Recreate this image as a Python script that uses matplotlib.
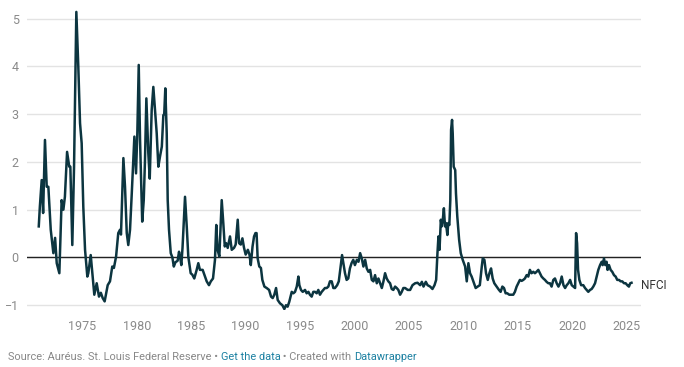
import matplotlib
matplotlib.use("Agg")
import matplotlib.pyplot as plt

# NFCI readings, estimated from the reference chart
years = [
    1971.0, 1971.1, 1971.27, 1971.4, 1971.57, 1971.73, 1971.88, 1972.1, 1972.34, 1972.5,
    1972.65, 1972.89, 1973.1, 1973.26, 1973.4, 1973.6, 1973.8, 1973.9, 1974.08, 1974.24,
    1974.33, 1974.45, 1974.63, 1974.79, 1974.94, 1975.09, 1975.25, 1975.46, 1975.55, 1975.77,
    1975.95, 1976.1, 1976.32, 1976.53, 1976.7, 1976.87, 1977.05, 1977.33, 1977.54, 1977.75,
    1977.9, 1978.1, 1978.3, 1978.46, 1978.55, 1978.77, 1978.92, 1979.08, 1979.22, 1979.38,
    1979.54, 1979.78, 1979.93, 1980.05, 1980.18, 1980.3, 1980.5, 1980.64, 1980.75, 1980.88,
    1981.06, 1981.19, 1981.37, 1981.52, 1981.67, 1981.83, 1981.98, 1982.13, 1982.3, 1982.44,
    1982.52, 1982.62, 1982.75, 1982.84, 1982.96, 1983.12, 1983.27, 1983.4, 1983.55, 1983.75,
    1983.88, 1983.97, 1984.09, 1984.2, 1984.43, 1984.59, 1984.73, 1984.95, 1985.1, 1985.28,
    1985.5, 1985.65, 1985.8, 1986.05, 1986.27, 1986.42, 1986.63, 1986.8, 1987.0, 1987.18,
    1987.3, 1987.42, 1987.58, 1987.8, 1987.95, 1988.08, 1988.2, 1988.35, 1988.56, 1988.72,
    1988.93, 1989.08, 1989.27, 1989.39, 1989.55, 1989.7, 1989.85, 1990.0, 1990.2, 1990.35,
    1990.47, 1990.63, 1990.77, 1990.9, 1991.0, 1991.1, 1991.25, 1991.4, 1991.53, 1991.72,
    1991.93, 1992.15, 1992.33, 1992.48, 1992.63, 1992.79, 1992.94, 1993.15, 1993.37, 1993.55,
    1993.7, 1993.85, 1994.0, 1994.23, 1994.38, 1994.53, 1994.69, 1994.84, 1994.93, 1995.08,
    1995.24, 1995.45, 1995.6, 1995.76, 1995.9, 1996.06, 1996.21, 1996.37, 1996.52, 1996.67,
    1996.82, 1996.98, 1997.13, 1997.28, 1997.44, 1997.59, 1997.74, 1997.9, 1998.05, 1998.2,
    1998.4, 1998.55, 1998.85, 1998.97, 1999.12, 1999.27, 1999.42, 1999.57, 1999.72, 1999.88,
    2000.03, 2000.21, 2000.36, 2000.51, 2000.66, 2000.81, 2000.97, 2001.12, 2001.27, 2001.43,
    2001.58, 2001.73, 2001.88, 2002.04, 2002.19, 2002.34, 2002.5, 2002.65, 2002.8, 2002.95,
    2003.1, 2003.26, 2003.41, 2003.56, 2003.72, 2003.87, 2004.02, 2004.18, 2004.33, 2004.48,
    2004.64, 2004.88, 2005.1, 2005.32, 2005.56, 2005.78, 2006.02, 2006.18, 2006.33, 2006.54,
    2006.7, 2006.94, 2007.15, 2007.34, 2007.49, 2007.61, 2007.7, 2007.8, 2007.92, 2008.0,
    2008.1, 2008.2, 2008.3, 2008.39, 2008.52, 2008.6, 2008.7, 2008.79, 2008.86, 2008.95,
    2009.01, 2009.1, 2009.24, 2009.31, 2009.43, 2009.6, 2009.75, 2009.93, 2010.15, 2010.3,
    2010.45, 2010.6, 2010.75, 2010.9, 2011.12, 2011.3, 2011.5, 2011.68, 2011.77, 2011.92,
    2012.07, 2012.23, 2012.38, 2012.53, 2012.68, 2012.83, 2013.05, 2013.26, 2013.41, 2013.57,
    2013.72, 2013.87, 2014.02, 2014.2, 2014.42, 2014.57, 2014.72, 2014.88, 2015.03, 2015.18,
    2015.34, 2015.49, 2015.64, 2015.8, 2015.95, 2016.1, 2016.25, 2016.41, 2016.56, 2016.71,
    2016.87, 2017.02, 2017.17, 2017.33, 2017.48, 2017.63, 2017.79, 2017.94, 2018.09, 2018.25,
    2018.4, 2018.56, 2018.72, 2018.87, 2019.02, 2019.18, 2019.33, 2019.48, 2019.63, 2019.79,
    2019.94, 2020.1, 2020.25, 2020.34, 2020.43, 2020.52, 2020.64, 2020.8, 2021.0, 2021.16,
    2021.31, 2021.46, 2021.62, 2021.77, 2021.92, 2022.08, 2022.23, 2022.38, 2022.54, 2022.69,
    2022.78, 2022.9, 2023.02, 2023.14, 2023.23, 2023.36, 2023.51, 2023.66, 2023.82, 2023.97,
    2024.12, 2024.28, 2024.43, 2024.58, 2024.74, 2024.89, 2025.04, 2025.19, 2025.31, 2025.43,
]
nfci = [
    0.65, 1.06, 1.62, 0.93, 2.46, 1.48, 1.48, 0.58, 0.09, 0.41,
    -0.12, -0.33, 1.2, 1.0, 1.27, 2.21, 1.9, 1.9, 0.26, 1.9,
    3.3, 5.14, 4.0, 2.81, 2.39, 1.06, 0.16, -0.4, -0.33, 0.05,
    -0.4, -0.78, -0.54, -0.82, -0.74, -0.85, -0.92, -0.58, -0.5, -0.19,
    -0.22, 0.02, 0.51, 0.58, 0.48, 2.08, 1.48, 0.51, 0.26, 0.58,
    1.34, 2.53, 1.76, 2.6, 4.03, 2.46, 0.75, 1.2, 2.0, 3.33,
    2.18, 1.65, 3.09, 3.57, 3.09, 2.6, 1.9, 2.11, 2.32, 2.98,
    3.0, 3.54, 2.6, 1.2, 0.58, 0.09, 0.0, -0.19, -0.1, -0.07,
    0.12, 0.02, -0.16, 0.2, 1.27, 0.64, 0.02, -0.33, -0.36, -0.44,
    -0.26, -0.12, -0.26, -0.26, -0.4, -0.5, -0.58, -0.5, -0.44, -0.05,
    0.68, 0.16, 0.02, 1.2, 0.7, 0.23, 0.3, 0.2, 0.44, 0.16,
    0.2, 0.27, 0.79, 0.3, 0.27, 0.4, 0.2, 0.06, 0.16, 0.06,
    -0.16, 0.23, 0.44, 0.51, 0.51, -0.02, -0.19, -0.22, -0.47, -0.61,
    -0.64, -0.68, -0.82, -0.85, -0.78, -0.64, -0.89, -0.96, -1.0, -1.08,
    -1.0, -1.03, -0.93, -0.72, -0.75, -0.72, -0.61, -0.4, -0.58, -0.68,
    -0.72, -0.68, -0.75, -0.72, -0.78, -0.82, -0.72, -0.72, -0.75, -0.68,
    -0.78, -0.72, -0.68, -0.64, -0.64, -0.61, -0.5, -0.5, -0.64, -0.64,
    -0.58, -0.5, 0.05, -0.12, -0.33, -0.47, -0.44, -0.23, -0.12, -0.05,
    -0.16, -0.05, -0.09, 0.09, -0.02, -0.19, -0.05, -0.23, -0.3, -0.26,
    -0.47, -0.5, -0.37, -0.54, -0.44, -0.54, -0.64, -0.5, -0.33, -0.44,
    -0.5, -0.54, -0.66, -0.68, -0.61, -0.64, -0.68, -0.78, -0.72, -0.64,
    -0.64, -0.68, -0.68, -0.58, -0.54, -0.53, -0.58, -0.51, -0.61, -0.51,
    -0.58, -0.61, -0.66, -0.58, -0.47, 0.09, 0.44, 0.16, 0.79, 0.65,
    0.79, 1.03, 0.65, 0.72, 0.47, 0.72, 0.68, 1.2, 2.67, 2.88,
    2.6, 1.9, 1.83, 1.34, 0.86, 0.37, 0.09, -0.05, -0.19, -0.5,
    -0.12, -0.33, -0.4, -0.5, -0.64, -0.61, -0.58, -0.19, -0.02, -0.05,
    -0.33, -0.47, -0.33, -0.23, -0.44, -0.54, -0.61, -0.68, -0.72, -0.61,
    -0.64, -0.75, -0.75, -0.78, -0.78, -0.78, -0.72, -0.61, -0.54, -0.47,
    -0.49, -0.47, -0.44, -0.37, -0.4, -0.26, -0.33, -0.3, -0.33, -0.3,
    -0.26, -0.33, -0.4, -0.44, -0.47, -0.51, -0.54, -0.54, -0.61, -0.47,
    -0.44, -0.54, -0.61, -0.54, -0.4, -0.58, -0.64, -0.58, -0.54, -0.47,
    -0.58, -0.61, -0.64, 0.51, 0.3, -0.26, -0.47, -0.58, -0.58, -0.64,
    -0.68, -0.72, -0.68, -0.66, -0.61, -0.54, -0.4, -0.26, -0.16, -0.09,
    -0.16, -0.02, -0.16, -0.09, -0.26, -0.16, -0.26, -0.3, -0.37, -0.4,
    -0.47, -0.47, -0.5, -0.5, -0.54, -0.54, -0.58, -0.61, -0.54, -0.53,
]
xticks = [1975, 1980, 1985, 1990, 1995, 2000, 2005, 2010, 2015, 2020, 2025]
yticks = [-1, 0, 1, 2, 3, 4, 5]

plt.rcParams['font.family'] = ['Roboto', 'DejaVu Sans']

fig = plt.figure(figsize=(6.84, 3.67), dpi=100)
ax = fig.add_axes([27 / 684, 1 - 310 / 367, 614 / 684, 300 / 367])

ax.set_xlim(1969.92, 2026.3)
ax.set_ylim(-1.1, 5.18)

ax.set_yticks(yticks)
ax.set_xticks(xticks)
ax.grid(axis='y', color='#e3e3e3', linewidth=1)
ax.set_axisbelow(True)
ax.axhline(0, color='#222222', linewidth=1, zorder=2)

for s in ax.spines.values():
    s.set_visible(False)
ax.tick_params(length=0, labelsize=9, labelcolor='#8a8a8a')
ax.tick_params(axis='y', pad=6)
ax.tick_params(axis='x', pad=7)

ax.plot(years, nfci, color='#0c3540', linewidth=1.8, zorder=3)

ax.annotate('NFCI', xy=(years[-1], nfci[-1]), xytext=(7, -2), textcoords='offset points',
            fontsize=8.5, color='#333333', va='center', ha='left', annotation_clip=False)

# footer: each piece is placed right after the previous one
pieces = [('Source: Auréus. St. Louis Federal Reserve • ', '#888888'),
          ('Get the data', '#1d81a2'),
          (' • Created with ', '#888888'),
          ('Datawrapper', '#1d81a2')]
t = fig.text(8 / 684, 1 - 360 / 367, pieces[0][0], color=pieces[0][1], fontsize=7.9,
             va='baseline', ha='left')
for txt, col in pieces[1:]:
    t = ax.annotate(txt, xy=(1, 0), xycoords=t, color=col, fontsize=7.9,
                    va='bottom', ha='left', annotation_clip=False)

fig.savefig('out.png', dpi=100)
